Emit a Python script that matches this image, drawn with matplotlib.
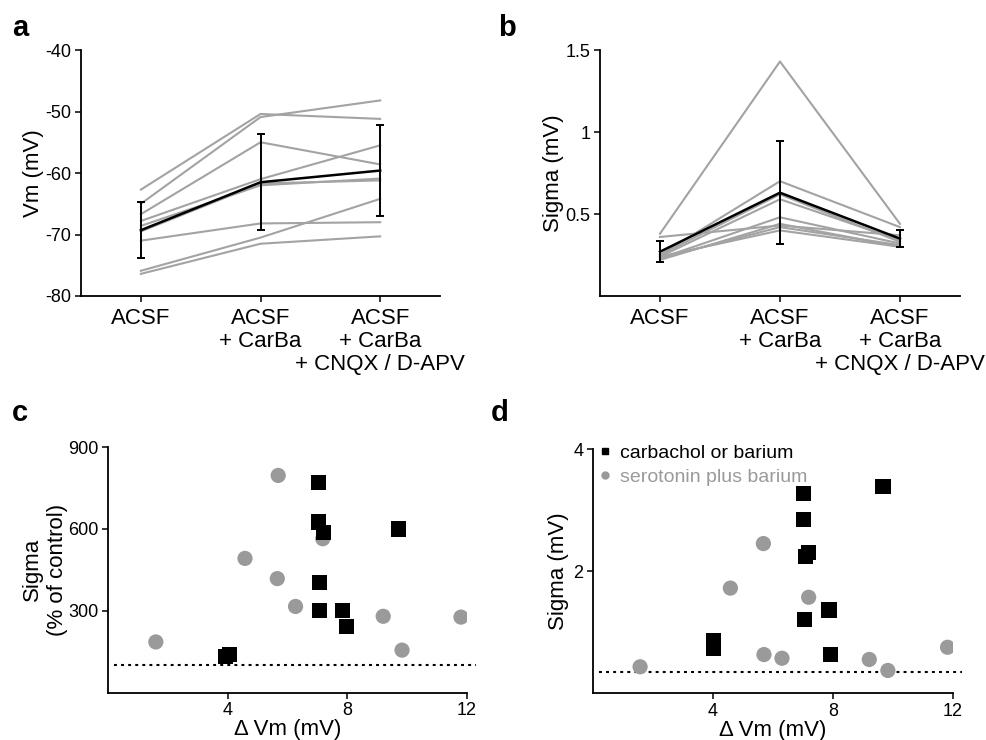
import matplotlib
matplotlib.use("Agg")
import matplotlib.pyplot as plt
from matplotlib.lines import Line2D

plt.rcParams["font.family"] = ["Liberation Sans", "DejaVu Sans"]
plt.rcParams["axes.unicode_minus"] = False

conditions = ["ACSF", "ACSF\n+ CarBa", "ACSF\n+ CarBa\n+ CNQX / D-APV"]

# panel a: membrane potential per cell (mV)
vm_cells = [
    [-62.7, -50.4, -51.2],
    [-65.0, -50.9, -48.2],
    [-66.7, -55.0, -58.6],
    [-67.8, -61.0, -55.5],
    [-68.6, -62.0, -60.9],
    [-69.5, -61.7, -61.2],
    [-71.0, -68.2, -68.0],
    [-75.9, -70.5, -64.2],
    [-76.4, -71.5, -70.3],
]
vm_mean = [-69.3, -61.5, -59.6]
vm_sd = [4.6, 7.8, 7.4]

# panel b: sigma per cell (mV)
sigma_cells = [
    [0.38, 1.43, 0.44],
    [0.36, 0.43, 0.37],
    [0.25, 0.70, 0.42],
    [0.25, 0.62, 0.33],
    [0.24, 0.59, 0.34],
    [0.23, 0.48, 0.32],
    [0.22, 0.44, 0.30],
    [0.23, 0.42, 0.31],
    [0.24, 0.40, 0.30],
]
sigma_mean = [0.27, 0.63, 0.35]
sigma_sd = [0.064, 0.315, 0.053]

# panels c / d: scatter, carbachol or barium (squares)
carb_dvm_c = [3.94, 4.06, 7.05, 7.05, 7.2, 7.07, 7.07, 7.85, 7.97, 9.7]
carb_pct = [133, 139, 770, 625, 588, 403, 301, 300, 242, 600]
sero_dvm_c = [1.6, 4.58, 5.69, 5.66, 6.27, 7.18, 9.2, 9.83, 11.8]
sero_pct = [186, 492, 796, 418, 316, 564, 280, 156, 277]

carb_dvm_d = [7.03, 7.03, 7.08, 7.19, 7.06, 7.87, 7.92, 4.03, 4.03, 9.67]
carb_sigma = [3.27, 2.84, 2.24, 2.31, 1.20, 1.36, 0.63, 0.86, 0.73, 3.38]
sero_dvm_d = [1.57, 4.58, 5.68, 5.70, 6.30, 7.19, 9.21, 9.83, 11.82]
sero_sigma = [0.43, 1.72, 2.45, 0.63, 0.57, 1.57, 0.55, 0.37, 0.75]

pct_baseline = 100
sigma_baseline = 0.34

GRAY_LINE = "#a3a3a3"
GRAY_DOT = "#9a9a9a"
TICK_FS = 13
LABEL_FS = 16


def style_axis(axis):
    for side in ("top", "right"):
        axis.spines[side].set_visible(False)
    for side in ("left", "bottom"):
        axis.spines[side].set_linewidth(1.3)
    axis.tick_params(direction="out", length=4, width=1.1, labelsize=TICK_FS, pad=3)


def paired_panel(axis, cells, mean, sd):
    positions = list(range(len(conditions)))
    for row in cells:
        axis.plot(positions, row, color=GRAY_LINE, lw=1.5, zorder=1)
    axis.errorbar(positions, mean, yerr=sd, color="black", lw=1.8,
                  elinewidth=1.4, capsize=2.8, capthick=1.4, zorder=3)
    axis.set_xlim(-0.5, 2.5)
    axis.set_xticks(positions)
    style_axis(axis)
    axis.set_xticklabels(conditions, fontsize=LABEL_FS, linespacing=1.1)
    axis.tick_params(axis="x", pad=5)


def scatter_panel(axis, sx, sy, cx, cy, baseline):
    axis.scatter(sx, sy, s=120, marker="o", color=GRAY_DOT, edgecolors="none", zorder=2)
    axis.scatter(cx, cy, s=120, marker="s", color="black", edgecolors="none", zorder=3)
    axis.hlines(baseline, 0.2, 12.3, colors="black", linestyles=(0, (1.4, 2.0)), lw=1.5,
                zorder=1, clip_on=False)
    axis.set_xlim(0, 12)
    axis.set_xticks([4, 8, 12])
    axis.set_xlabel("Δ Vm (mV)", fontsize=LABEL_FS, labelpad=0)
    style_axis(axis)


figure = plt.figure(figsize=(9.87, 7.4), dpi=100)

ax_a = figure.add_axes([0.0821, 0.600, 0.3637, 0.3324])
paired_panel(ax_a, vm_cells, vm_mean, vm_sd)
ax_a.set_ylim(-80, -40)
ax_a.set_yticks([-80, -70, -60, -50, -40])
ax_a.set_ylabel("Vm (mV)", fontsize=LABEL_FS, labelpad=1)

ax_b = figure.add_axes([0.6079, 0.600, 0.3647, 0.3324])
paired_panel(ax_b, sigma_cells, sigma_mean, sigma_sd)
ax_b.set_ylim(0, 1.5)
ax_b.set_yticks([0.5, 1, 1.5])
ax_b.set_yticklabels(["0.5", "1", "1.5"])
ax_b.set_ylabel("Sigma (mV)", fontsize=LABEL_FS, labelpad=1)

ax_c = figure.add_axes([0.1094, 0.0639, 0.3637, 0.3320])
scatter_panel(ax_c, sero_dvm_c, sero_pct, carb_dvm_c, carb_pct, pct_baseline)
ax_c.set_ylim(0, 900)
ax_c.set_yticks([300, 600, 900])
ax_c.set_ylabel("Sigma\n(% of control)", fontsize=LABEL_FS, labelpad=0, linespacing=1.25)

ax_d = figure.add_axes([0.6008, 0.0635, 0.3647, 0.3297])
scatter_panel(ax_d, sero_dvm_d, sero_sigma, carb_dvm_d, carb_sigma, sigma_baseline)
ax_d.set_ylim(0, 4)
ax_d.set_yticks([2, 4])
ax_d.set_ylabel("Sigma (mV)", fontsize=LABEL_FS, labelpad=3)

handles = [
    Line2D([], [], ls="none", marker="s", color="black", markersize=5),
    Line2D([], [], ls="none", marker="o", color=GRAY_DOT, markersize=5),
]
legend = ax_d.legend(handles, ["carbachol or barium", "serotonin plus barium"],
                     loc="upper left", bbox_to_anchor=(-0.005, 1.05), frameon=False,
                     fontsize=14, handlelength=0.6, handletextpad=0.5,
                     borderaxespad=0, labelspacing=0.3)
legend.get_texts()[1].set_color(GRAY_DOT)

for label, (x, y) in zip("abcd", [(0.012, 0.962), (0.505, 0.962), (0.012, 0.442), (0.497, 0.442)]):
    figure.text(x, y, label, fontsize=21, fontweight="bold", va="center", ha="left")

figure.savefig("out.png", dpi=100, facecolor="white")
